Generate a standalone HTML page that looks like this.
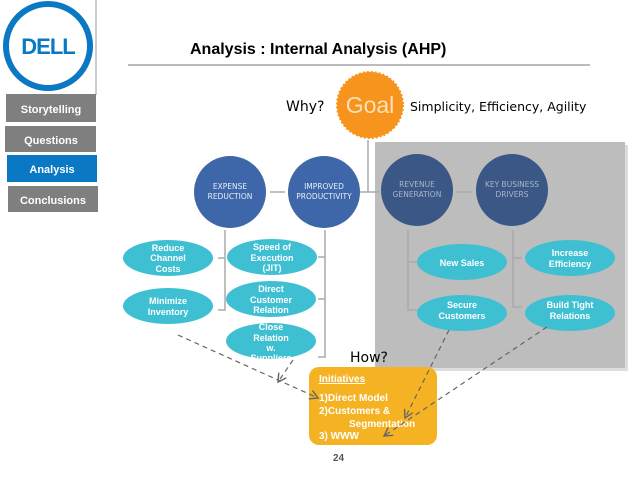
<!DOCTYPE html>
<html><head><style>
body{margin:0;width:638px;height:479px;background:#fff;overflow:hidden}
svg{display:block}
.b{font-family:"Liberation Sans",sans-serif;font-weight:bold}
</style></head><body>
<svg width="638" height="479" viewBox="0 0 638 479">
<defs><marker id="ar" markerWidth="8" markerHeight="8" refX="7" refY="4" orient="auto"><path d="M0,0 L7,4 L0,8" fill="none" stroke="#666" stroke-width="1.2"/></marker></defs>
<line x1="96" y1="0" x2="96" y2="95" stroke="#ccc" stroke-width="2"/>
<circle cx="48" cy="46" r="42" fill="#fff" stroke="#0a78c2" stroke-width="6"/>
<text x="48" y="54" text-anchor="middle" class="b" font-size="22" fill="#0a78c2" letter-spacing="-1">DELL</text>
<rect x="6" y="94" width="90" height="28" fill="#7f7f7f"/>
<text x="51" y="113" text-anchor="middle" class="b" font-size="11" fill="#fff">Storytelling</text>
<rect x="5" y="126" width="91" height="26" fill="#7f7f7f"/>
<text x="51" y="144" text-anchor="middle" class="b" font-size="11" fill="#fff">Questions</text>
<rect x="7" y="155" width="90" height="27" fill="#0a78c2"/>
<text x="52" y="173" text-anchor="middle" class="b" font-size="11" fill="#fff">Analysis</text>
<rect x="8" y="186" width="90" height="26" fill="#7f7f7f"/>
<text x="53" y="204" text-anchor="middle" class="b" font-size="11" fill="#fff">Conclusions</text>
<text x="190" y="54" class="b" font-size="16" fill="#000">Analysis : Internal Analysis (AHP)</text>
<line x1="128" y1="65" x2="590" y2="65" stroke="#bbb" stroke-width="2"/>
<circle cx="370" cy="105" r="33" fill="#f7941d" stroke="#f7941d" stroke-width="2" stroke-dasharray="2 2"/>
<text x="370" y="113" text-anchor="middle" font-family="Liberation Sans,sans-serif" font-size="23" fill="#fde1b8">Goal</text>
<text x="286" y="111" font-family="DejaVu Sans,sans-serif" font-size="14">Why?</text>
<text x="410" y="111" font-family="DejaVu Sans,sans-serif" font-size="12.5">Simplicity, Efficiency, Agility</text>
<rect x="378" y="145" width="250" height="226" fill="#ddd"/>
<rect x="375" y="142" width="250" height="226" fill="#bdbdbd"/>
<g stroke="#aaa" stroke-width="1.5" fill="none">
<line x1="368" y1="140" x2="368" y2="192"/><line x1="358" y1="192" x2="380" y2="192"/>
<line x1="270" y1="192" x2="285" y2="192"/><line x1="456" y1="192" x2="472" y2="192"/>
<path d="M218,258 H225 M225,230 V310 H218"/>
<path d="M318,257 H325 M318,299 H325 M325,230 V357 H318"/>
<path d="M408,230 V310 H418 M408,262 H418"/>
<path d="M513,230 V307 H522 M513,258 H522"/>
</g>
<g text-anchor="middle" font-family="DejaVu Sans,sans-serif" font-size="7.5" fill="#e8eef8">
<circle cx="230" cy="192" r="36" fill="#3d67a8"/><text x="230" y="189">EXPENSE</text><text x="230" y="199">REDUCTION</text>
<circle cx="324" cy="192" r="36" fill="#3d67a8"/><text x="324" y="189">IMPROVED</text><text x="324" y="199">PRODUCTIVITY</text>
<circle cx="417" cy="190" r="36" fill="#3a5785"/><text x="417" y="187" fill="#aab6c8">REVENUE</text><text x="417" y="197" fill="#aab6c8">GENERATION</text>
<circle cx="512" cy="190" r="36" fill="#3a5785"/><text x="512" y="187" fill="#aab6c8">KEY BUSINESS</text><text x="512" y="197" fill="#aab6c8">DRIVERS</text>
</g>
<g fill="#3fc0d2"><ellipse cx="168" cy="258" rx="45" ry="18"/><ellipse cx="168" cy="306" rx="45" ry="18"/><ellipse cx="272" cy="257" rx="45" ry="18"/><ellipse cx="271" cy="299" rx="45" ry="18"/><ellipse cx="271" cy="341" rx="45" ry="18"/><ellipse cx="462" cy="262" rx="45" ry="18"/><ellipse cx="462" cy="313" rx="45" ry="18"/><ellipse cx="570" cy="258" rx="45" ry="18"/><ellipse cx="570" cy="313" rx="45" ry="18"/></g>
<g text-anchor="middle" class="b" font-size="9" fill="#fff">
<text x="168" y="251">Reduce</text><text x="168" y="261">Channel</text><text x="168" y="272">Costs</text>
<text x="168" y="304">Minimize</text><text x="168" y="315">Inventory</text>
<text x="272" y="250">Speed of</text><text x="272" y="261">Execution</text><text x="272" y="271">(JIT)</text>
<text x="271" y="292">Direct</text><text x="271" y="303">Customer</text><text x="271" y="313">Relation</text>
<text x="271" y="330">Close</text><text x="271" y="341">Relation</text><text x="271" y="351">w.</text><text x="271" y="361">Suppliers</text>
<text x="462" y="266">New Sales</text>
<text x="462" y="308">Secure</text><text x="462" y="319">Customers</text>
<text x="570" y="256">Increase</text><text x="570" y="267">Efficiency</text>
<text x="570" y="308">Build Tight</text><text x="570" y="319">Relations</text>
</g>
<rect x="228" y="360" width="90" height="6" fill="#fff"/>
<rect x="309" y="367" width="128" height="78" rx="10" fill="#f5b323"/>
<text x="350" y="362" font-family="DejaVu Sans,sans-serif" font-size="14">How?</text>
<g class="b" font-size="10" fill="#fff">
<text x="319" y="382" text-decoration="underline">Initiatives</text>
<text x="319" y="401">1)Direct Model</text>
<text x="319" y="414">2)Customers &amp;</text>
<text x="349" y="427">Segmentation</text>
<text x="319" y="439">3)    WWW</text>
</g>
<text x="333" y="461" class="b" font-size="10" fill="#555">24</text>
<g stroke="#666" stroke-width="1.2" stroke-dasharray="5 4" fill="none" marker-end="url(#ar)">
<line x1="178" y1="335" x2="318" y2="398"/>
<line x1="293" y1="360" x2="278" y2="382"/>
<line x1="449" y1="330" x2="405" y2="418"/>
<line x1="547" y1="327" x2="384" y2="436"/>
</g>
</svg>
</body></html>
